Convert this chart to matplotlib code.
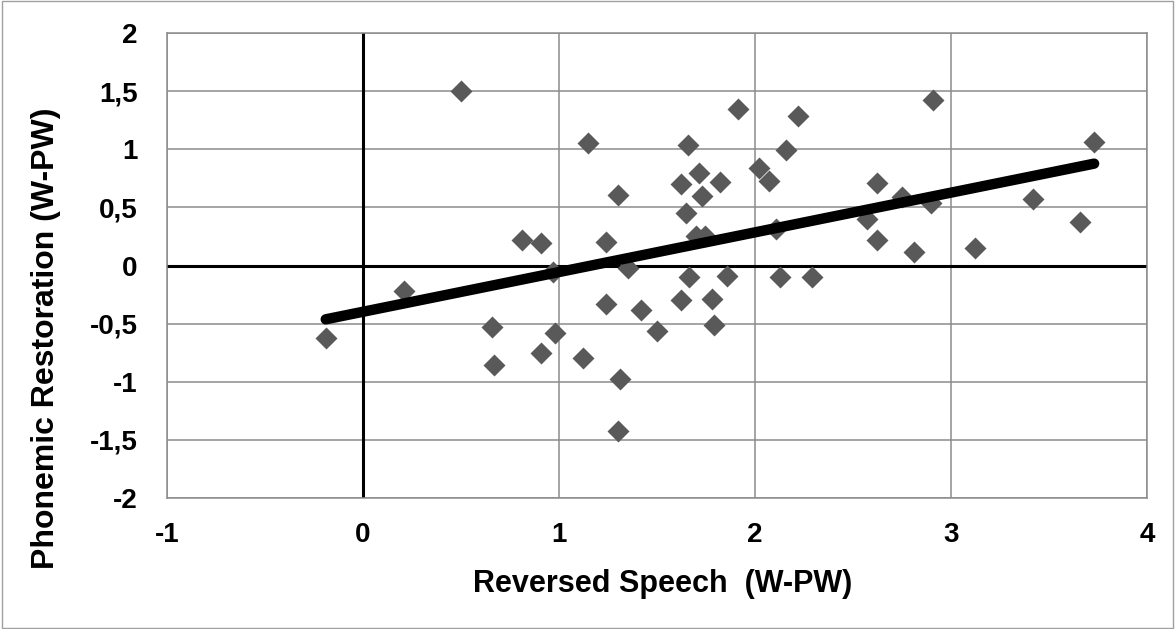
import matplotlib.pyplot as plt
import numpy as np
from matplotlib.ticker import FuncFormatter
from matplotlib.patches import Rectangle

# reversed speech (W-PW) vs phonemic restoration (W-PW)
reversed_speech = [-0.19, 0.21, 0.50, 0.66, 0.67, 0.81, 0.91, 0.91, 0.97, 0.98,
                   1.12, 1.15, 1.24, 1.24, 1.30, 1.31, 1.30, 1.35, 1.42, 1.50,
                   1.62, 1.62, 1.65, 1.66, 1.665, 1.70, 1.715, 1.73, 1.745, 1.78,
                   1.79, 1.82, 1.855, 1.915, 2.02, 2.07, 2.105, 2.13, 2.16, 2.22,
                   2.29, 2.57, 2.62, 2.62, 2.75, 2.81, 2.90, 2.91, 3.12, 3.42,
                   3.66, 3.73]
phonemic_restoration = [-0.62, -0.22, 1.50, -0.53, -0.86, 0.22, 0.19, -0.75, -0.06, -0.58,
                        -0.80, 1.05, 0.20, -0.33, 0.61, -0.98, -1.42, -0.02, -0.38, -0.56,
                        0.70, -0.30, 0.45, 1.04, -0.10, 0.25, 0.80, 0.60, 0.25, -0.29,
                        -0.51, 0.72, -0.09, 1.35, 0.84, 0.73, 0.31, -0.10, 0.99, 1.29,
                        -0.10, 0.40, 0.71, 0.22, 0.59, 0.12, 0.54, 1.42, 0.15, 0.57,
                        0.37, 1.06]

x_ticks = [-1, 0, 1, 2, 3, 4]
y_ticks = [-2, -1.5, -1, -0.5, 0, 0.5, 1, 1.5, 2]

plt.rcParams['font.family'] = ['Liberation Sans', 'DejaVu Sans']
plt.rcParams['font.weight'] = 'bold'

fig = plt.figure(figsize=(11.75, 6.29), dpi=100)
ax = fig.add_axes([0.1421, 0.2083, 0.8341, 0.7392])

x = np.array(reversed_speech)
y = np.array(phonemic_restoration)

# linear trend line over the data range
slope, intercept = np.polyfit(x, y, 1)
xs = np.array([x.min(), x.max()])

ax.axhline(0, color='black', lw=2.2, zorder=2)
ax.axvline(0, color='black', lw=2.2, zorder=2)
ax.plot(x, y, 'D', color='#595959', ms=11, mec='none', zorder=3)
ax.plot(xs, slope * xs + intercept, color='black', lw=7.5, solid_capstyle='round', zorder=4)

ax.set_xlim(-1, 4)
ax.set_ylim(-2, 2)
ax.set_xticks(x_ticks)
ax.set_yticks(y_ticks)
ax.grid(True, color='#8c8c8c', lw=1.1)
ax.set_axisbelow(True)
for s in ax.spines.values():
    s.set_color('#8c8c8c')
    s.set_linewidth(1.1)

fmt = FuncFormatter(lambda v, p: ('%g' % v).replace('.', ','))
ax.xaxis.set_major_formatter(fmt)
ax.yaxis.set_major_formatter(fmt)
ax.tick_params(length=0, labelsize=20)
ax.tick_params(axis='x', pad=17)
ax.tick_params(axis='y', pad=21)

ax.set_xlabel('Reversed Speech  (W-PW)', fontsize=22, fontweight='bold')
ax.xaxis.set_label_coords(0.506, -0.153)
ax.set_ylabel('Phonemic Restoration (W-PW)', fontsize=23, fontweight='bold')
ax.yaxis.set_label_coords(-0.108, 0.344)

fig.canvas.draw()
for lab in ax.get_xticklabels() + ax.get_yticklabels():
    lab.set_fontweight('bold')

fig.patches.append(Rectangle((0.002, 0.002), 0.996, 0.996, transform=fig.transFigure,
                             fill=False, edgecolor='#a0a0a0', lw=1))

plt.savefig('out.png', dpi=100)
